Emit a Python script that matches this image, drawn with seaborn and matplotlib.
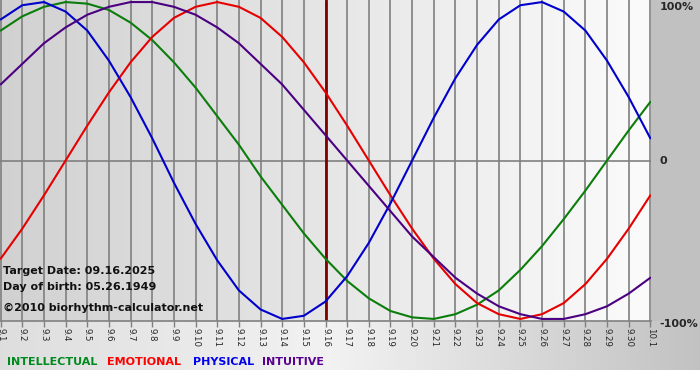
import numpy as np
import pandas as pd
import matplotlib
matplotlib.use("Agg")
import matplotlib.pyplot as plt
import seaborn as sns

# days shown on the x axis (Sep 1 .. Oct 1)
day_labels = ["9.%d" % d for d in range(1, 31)] + ["10.1"]

# cycle values, one per day
intellectual = [0.82, 0.91, 0.97, 1.00, 0.99, 0.95, 0.87, 0.76, 0.62, 0.46,
                0.28, 0.10, -0.10, -0.28, -0.46, -0.62, -0.76, -0.87, -0.95, -0.99,
                -1.00, -0.97, -0.91, -0.82, -0.69, -0.54, -0.37, -0.19, 0.00, 0.19, 0.37]
emotional = [-0.62, -0.43, -0.22, 0.00, 0.22, 0.43, 0.62, 0.78, 0.90, 0.97,
             1.00, 0.97, 0.90, 0.78, 0.62, 0.43, 0.22, 0.00, -0.22, -0.43,
             -0.62, -0.78, -0.90, -0.97, -1.00, -0.97, -0.90, -0.78, -0.62, -0.43, -0.22]
physical = [0.89, 0.98, 1.00, 0.94, 0.82, 0.63, 0.40, 0.14, -0.14, -0.40,
            -0.63, -0.82, -0.94, -1.00, -0.98, -0.89, -0.73, -0.52, -0.27, 0.00,
            0.27, 0.52, 0.73, 0.89, 0.98, 1.00, 0.94, 0.82, 0.63, 0.40, 0.14]
intuitive = [0.48, 0.61, 0.74, 0.84, 0.92, 0.97, 1.00, 1.00, 0.97, 0.92,
             0.84, 0.74, 0.61, 0.48, 0.32, 0.16, 0.00, -0.16, -0.32, -0.48,
             -0.61, -0.74, -0.84, -0.92, -0.97, -1.00, -1.00, -0.97, -0.92, -0.84, -0.74]

target_day = "9.16"
cycles = ["INTELLECTUAL", "EMOTIONAL", "PHYSICAL", "INTUITIVE"]
line_colors = ["#0b7d0b", "#e60000", "#0000cc", "#4b0082"]
text_colors = ["#008a1e", "#ff0000", "#0000ee", "#5a0090"]

rows = []
for name, vals in zip(cycles, [intellectual, emotional, physical, intuitive]):
    for i, v in enumerate(vals):
        rows.append({"day": i, "value": v, "cycle": name})
df = pd.DataFrame(rows)

sns.set_style("white")
plt.rcParams['font.family'] = ['DejaVu Sans']

W, H = 700, 380
fig = plt.figure(figsize=(7, 3.8), dpi=100)

# background: gradients drawn as an image
bg = np.ones((H, W))
plot_bottom, plot_right = 321, 651
xs = np.arange(W)
bg[:plot_bottom, :plot_right] = np.linspace(0.82, 0.985, plot_right)[None, :]
bg[:plot_bottom, plot_right:] = 0.76
strip = np.interp(xs, [0, 330, 700], [0.87, 0.95, 0.76])
bg[plot_bottom:370, :] = strip[None, :]
ax_bg = fig.add_axes([0, 0, 1, 1], zorder=0)
ax_bg.imshow(np.dstack([bg] * 3), aspect="auto", extent=(0, W, H, 0))
ax_bg.axis("off")

ax = fig.add_axes([0, 1 - plot_bottom / H, plot_right / W, plot_bottom / H], zorder=1)
ax.set_facecolor("none")

ax.grid(axis="x", color="#808080", linewidth=1.2, zorder=1)
ax.axhline(0, color="#808080", linewidth=1.2, zorder=1)
ax.axvline(day_labels.index(target_day), color="#800000", linewidth=2, zorder=2)

sns.lineplot(data=df, x="day", y="value", hue="cycle", hue_order=cycles,
             palette=line_colors, linewidth=1.5, legend=False, ax=ax, zorder=3)

ax.set_xlim(-0.03, len(day_labels) - 1 + 0.03)
ax.set_ylim(-1.013, 1.013)
ax.set_xlabel("")
ax.set_ylabel("")
ax.set_xticks(range(len(day_labels)))
ax.set_xticklabels(day_labels)
ax.tick_params(axis="x", length=4, width=1, color="#808080", pad=1,
               labelsize=6.2, labelrotation=-90, bottom=True)

ax.yaxis.tick_right()
ax.set_yticks([-1, 0, 1])
ax.set_yticklabels(["-100%", "0", "100%"])
ax.tick_params(axis="y", length=0, pad=6, labelsize=8)
for lab in ax.get_yticklabels():
    lab.set_fontweight("bold")
ax.get_yticklabels()[2].set_va("top")
ax.get_yticklabels()[0].set_va("top")

for s in ["left", "top", "right"]:
    ax.spines[s].set_visible(False)
ax.spines["bottom"].set_color("#808080")
ax.spines["bottom"].set_linewidth(1.2)


def px(x, y):
    return x / W, 1 - y / H


fig.text(*px(3, 271.5), "Target Date: 09.16.2025", fontsize=8,
         weight="bold", va="center", color="#111111", zorder=5)
fig.text(*px(3, 287), "Day of birth: 05.26.1949", fontsize=8,
         weight="bold", va="center", color="#111111", zorder=5)
fig.text(*px(3, 308), "\u00a92010 biorhythm-calculator.net", fontsize=8,
         weight="bold", va="center", color="#111111", zorder=5)

for name, col, x0 in zip(cycles, text_colors, [7, 107, 193, 262]):
    fig.text(*px(x0, 362), name, fontsize=8, weight="bold", va="center",
             color=col, zorder=5)

fig.savefig("out.png", dpi=100)
